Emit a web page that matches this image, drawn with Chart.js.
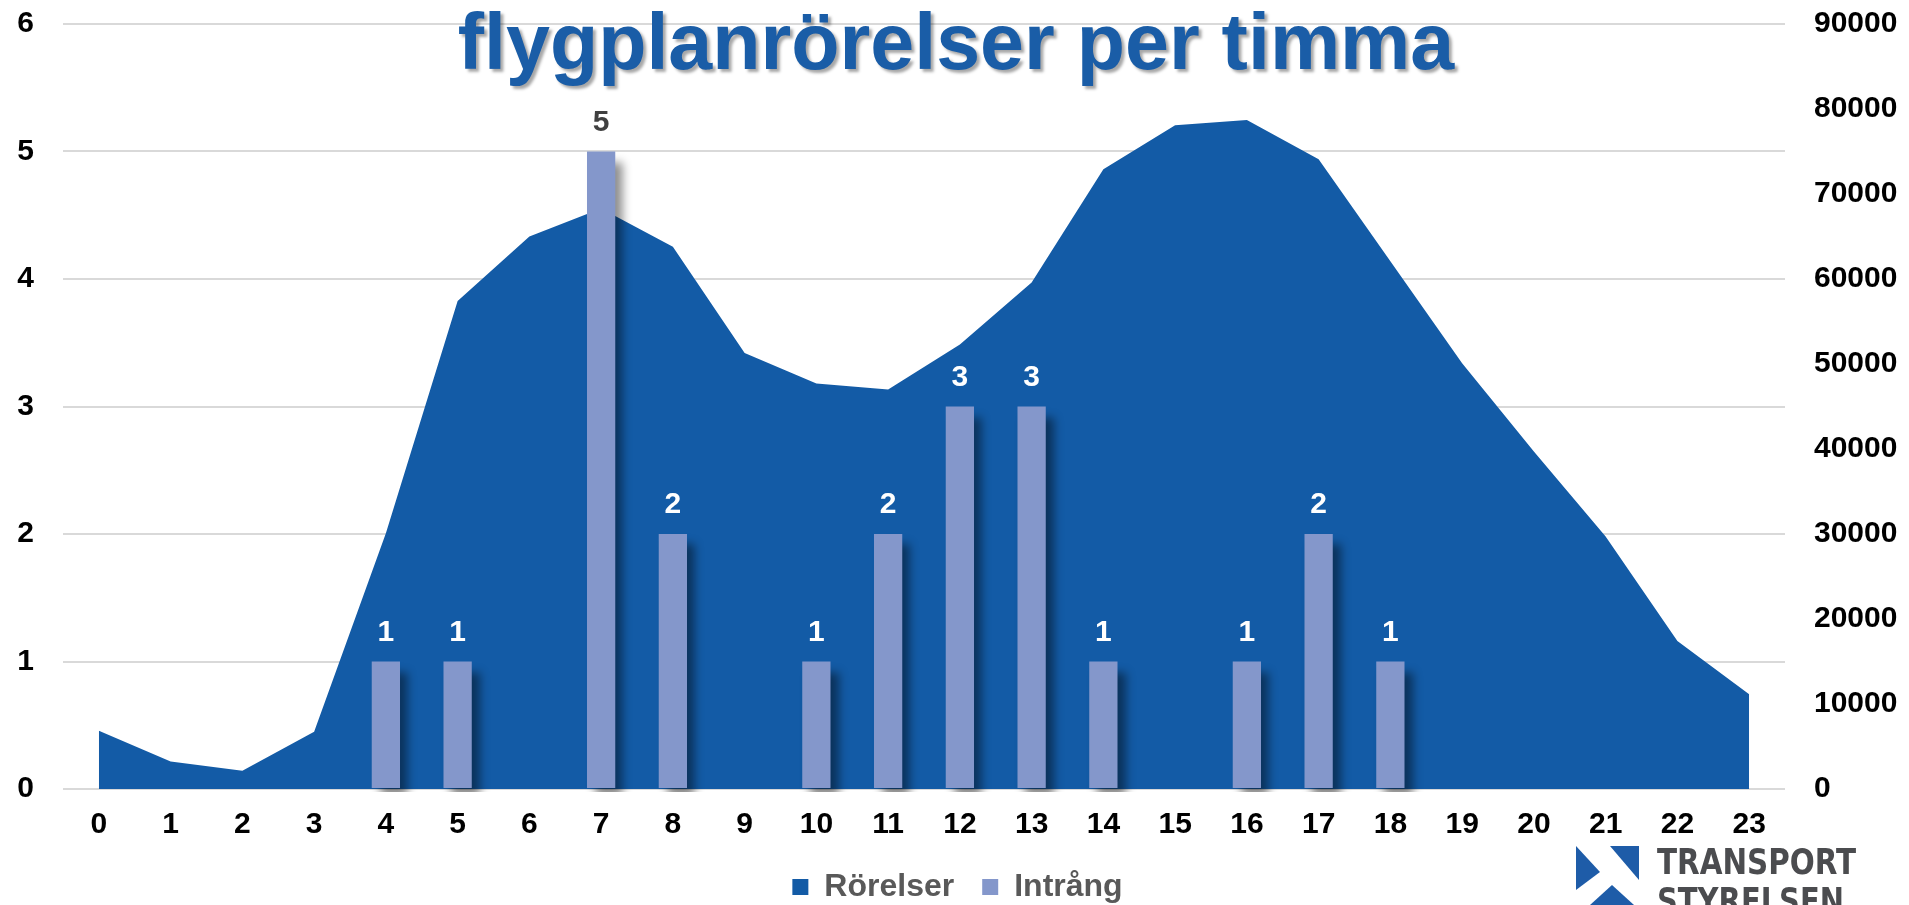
<!DOCTYPE html>
<html>
<head>
<meta charset="utf-8">
<script src="https://cdn.jsdelivr.net/npm/chart.js@4/dist/chart.umd.min.js"></script>
<style>
    html, body { margin: 0; padding: 0; background: #ffffff; }
    #wrap { width: 1909px; height: 905px; position: relative; }
</style>
</head>
<body>
<div id="wrap"><canvas id="flightChart"></canvas></div>
<script>
// Hours of the day (x axis)
const hours = ['0', '1', '2', '3', '4', '5', '6', '7', '8', '9', '10', '11',
               '12', '13', '14', '15', '16', '17', '18', '19', '20', '21', '22', '23'];

// Rörelser per hour (right axis)
const rorelser = [6850, 3250, 2150, 6750, 30100, 57400, 65000, 68300, 63800, 51300, 47700, 47000,
                  52300, 59600, 72900, 78100, 78700, 74100, 62100, 50100, 39700, 29700, 17400, 11150];

// Intrång per hour (left axis)
const intrang = [0, 0, 0, 0, 1, 1, 0, 5, 2, 0, 1, 2, 3, 3, 1, 0, 1, 2, 1, 0, 0, 0, 0, 0];

const leftMax = 6;
const rightMax = 90000;
const rightStep = 10000;

const chartTitle = 'flygplanrörelser per timma';

document.addEventListener('DOMContentLoaded', function() {
    Chart.defaults.font.family = '"Liberation Sans", Arial, sans-serif';

    // keep the tick padding from pushing the plot area inwards
    function noEdgePadding(scale) {
        scale.paddingLeft = 0;
        scale.paddingRight = 0;
        scale.paddingTop = 0;
        scale.paddingBottom = 0;
    }

    // Drop shadow behind the Intrång bars
    const barShadow = {
        id: 'barShadow',
        beforeDatasetDraw(chart, args) {
            if (args.meta.type !== 'bar') return;
            const ctx = chart.ctx;
            ctx.save();
            ctx.shadowColor = 'rgba(0, 0, 0, 0.45)';
            ctx.shadowOffsetX = 8;
            ctx.shadowOffsetY = 10;
            ctx.shadowBlur = 9;
        },
        afterDatasetDraw(chart, args) {
            if (args.meta.type !== 'bar') return;
            chart.ctx.restore();
        }
    };

    // Value labels above the bars
    const barLabels = {
        id: 'barLabels',
        afterDatasetsDraw(chart) {
            const ctx = chart.ctx;
            const meta = chart.getDatasetMeta(1);
            ctx.save();
            ctx.font = 'bold 30px "Liberation Sans", Arial, sans-serif';
            ctx.textAlign = 'center';
            ctx.textBaseline = 'middle';
            meta.data.forEach((bar, i) => {
                const v = intrang[i];
                if (!v) return;
                // white when the label sits inside the area, dark grey otherwise
                const inside = rorelser[i] / (rightMax / leftMax) > v + 0.3;
                ctx.fillStyle = inside ? '#ffffff' : '#404040';
                ctx.fillText(String(v), bar.x, bar.y - 29);
            });
            ctx.restore();
        }
    };

    // Big title sitting inside the plot + logo bottom right
    const decorations = {
        id: 'decorations',
        afterDraw(chart) {
            const ctx = chart.ctx;
            ctx.save();
            ctx.font = 'bold 79px "Liberation Sans", Arial, sans-serif';
            ctx.textAlign = 'center';
            ctx.textBaseline = 'alphabetic';
            ctx.shadowColor = 'rgba(0, 0, 0, 0.35)';
            ctx.shadowOffsetX = 3;
            ctx.shadowOffsetY = 3;
            ctx.shadowBlur = 3;
            ctx.fillStyle = '#1A5DA7';
            ctx.fillText(chartTitle, 956, 69);
            ctx.restore();

            // logo
            ctx.save();
            ctx.fillStyle = '#1E5CA8';
            ctx.beginPath();
            ctx.moveTo(1576, 846); ctx.lineTo(1600, 872); ctx.lineTo(1576, 890); ctx.closePath();
            ctx.fill();
            ctx.beginPath();
            ctx.moveTo(1610, 846); ctx.lineTo(1639, 846); ctx.lineTo(1639, 880); ctx.closePath();
            ctx.fill();
            ctx.beginPath();
            ctx.moveTo(1612, 885); ctx.lineTo(1634, 905); ctx.lineTo(1590, 905); ctx.closePath();
            ctx.fill();
            ctx.fillStyle = '#4B4C4F';
            ctx.font = 'bold 36px "Liberation Sans Narrow", "DejaVu Sans Condensed", sans-serif';
            ctx.textAlign = 'left';
            ctx.textBaseline = 'alphabetic';
            ctx.fillText('TRANSPORT', 1657, 874, 199);
            ctx.fillText('STYRELSEN', 1657, 913, 187);
            ctx.restore();
        }
    };

    const canvas = document.getElementById('flightChart');
    new Chart(canvas, {
        data: {
            labels: hours,
            datasets: [{
                type: 'line',
                label: 'Rörelser',
                data: rorelser,
                yAxisID: 'y1',
                fill: 'origin',
                backgroundColor: '#135BA6',
                borderColor: '#135BA6',
                borderWidth: 0,
                pointRadius: 0,
                tension: 0,
                order: 2
            }, {
                type: 'bar',
                label: 'Intrång',
                data: intrang,
                yAxisID: 'y',
                backgroundColor: '#8497CB',
                barPercentage: 0.394,
                categoryPercentage: 1,
                clip: {left: false, top: false, right: false, bottom: 3},
                order: 1
            }]
        },
        options: {
            responsive: true,
            maintainAspectRatio: false,
            animation: false,
            layout: {
                padding: {left: 17, right: 11, top: 24, bottom: -8}
            },
            plugins: {
                legend: {
                    position: 'bottom',
                    labels: {
                        sort: (a, b) => a.datasetIndex - b.datasetIndex,
                        font: {size: 32, weight: 'bold'},
                        color: '#595959',
                        boxWidth: 16,
                        boxHeight: 16,
                        padding: 28
                    }
                },
                tooltip: {enabled: false}
            },
            scales: {
                x: {
                    offset: true,
                    grid: {display: false, drawTicks: false},
                    border: {display: false},
                    afterFit: function(scale) {
                        noEdgePadding(scale);
                        scale.height = 54;
                    },
                    ticks: {
                        color: '#000000',
                        font: {size: 30, weight: 'bold'},
                        padding: 18,
                        maxRotation: 0,
                        autoSkip: false
                    }
                },
                y: {
                    position: 'left',
                    min: 0,
                    max: leftMax,
                    grid: {color: '#D9D9D9', lineWidth: 2, drawTicks: false},
                    border: {display: false},
                    afterFit: function(scale) {
                        noEdgePadding(scale);
                        scale.width = 46;
                    },
                    ticks: {
                        stepSize: 1,
                        color: '#000000',
                        font: {size: 30, weight: 'bold'},
                        padding: 29
                    }
                },
                y1: {
                    position: 'right',
                    min: 0,
                    max: rightMax,
                    grid: {display: false, drawTicks: false},
                    border: {display: false},
                    afterFit: function(scale) {
                        noEdgePadding(scale);
                        scale.width = 113;
                    },
                    ticks: {
                        stepSize: rightStep,
                        color: '#000000',
                        font: {size: 30, weight: 'bold'},
                        padding: 29,
                        callback: function(value) {
                            return String(value);
                        }
                    }
                }
            }
        },
        plugins: [barShadow, barLabels, decorations]
    });
});
</script>
</body>
</html>
